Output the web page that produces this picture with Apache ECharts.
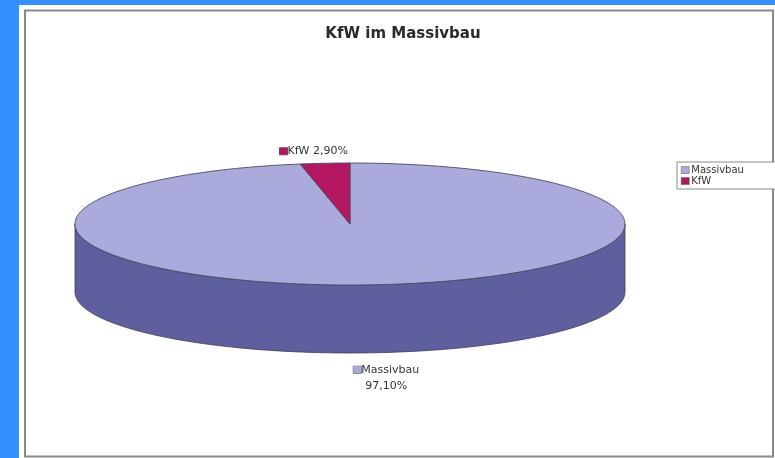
<!DOCTYPE html>
<html>
<head>
<meta charset="utf-8">
<script src="https://cdn.jsdelivr.net/npm/echarts@6/dist/echarts.min.js"></script>
<style>
  html, body { margin: 0; padding: 0; }
  #chart { width: 775px; height: 458px; }
</style>
</head>
<body>
<div id="chart"></div>
<script>
// Anteile (%), Excel-Reihenfolge: Start bei 12 Uhr, im Uhrzeigersinn
const categories = ["Massivbau", "KfW"];
const shares = [97.1, 2.9];
const topColors = ["#aaaadc", "#b3175f"];
const sideColors = ["#5f5f9f", "#7a1040"];

// Geometrie der 3D-Torte
const CX = 350, CY = 224, RX = 275, RY = 61, DEPTH = 68;

const total = shares.reduce((a, b) => a + b, 0);

function fmtPct(v) {
  return v.toFixed(2).replace(".", ",") + "%";
}

function pt(theta, dy) {
  // theta: Winkel im Uhrzeigersinn ab 12 Uhr
  return [CX + RX * Math.sin(theta), CY - RY * Math.cos(theta) + (dy || 0)];
}

function arcPoints(a0, a1, dy) {
  const pts = [];
  const n = Math.max(2, Math.ceil(Math.abs(a1 - a0) / (Math.PI / 180)));
  for (let i = 0; i <= n; i++) {
    pts.push(pt(a0 + (a1 - a0) * i / n, dy));
  }
  return pts;
}

function makeRender(idx) {
  return function(params, api) {
    let before = 0;
    for (let i = 0; i < idx; i++) before += shares[i];
    const value = api.value(0);
    const a0 = before / total * Math.PI * 2;
    const a1 = (before + value) / total * Math.PI * 2;
    const children = [];

    // sichtbare Seitenwand (vordere Hälfte: 90°..270°)
    const s0 = Math.max(a0, Math.PI / 2);
    const s1 = Math.min(a1, Math.PI * 1.5);
    if (s1 > s0) {
      const upper = arcPoints(s0, s1, 0);
      const lower = arcPoints(s1, s0, DEPTH);
      children.push({
        type: "polygon",
        shape: { points: upper.concat(lower) },
        style: { fill: sideColors[idx], stroke: "#3c3c5a", lineWidth: 0.8 }
      });
    }

    // Deckfläche
    children.push({
      type: "polygon",
      shape: { points: [[CX, CY]].concat(arcPoints(a0, a1, 0)) },
      style: { fill: topColors[idx], stroke: "#4a4a60", lineWidth: 0.9 }
    });

    // Beschriftung
    const mid = (a0 + a1) / 2;
    const front = Math.cos(mid) < 0;
    const lx = CX + RX * 1.45 * Math.sin(mid);
    const ly = front
      ? CY + (RY + 9) * Math.abs(Math.cos(mid)) + DEPTH
      : CY - (RY + 4) * Math.abs(Math.cos(mid));
    const sep = idx === 0 ? "\n" : " ";
    children.push({
      type: "text",
      style: {
        text: "{sq|}" + categories[idx] + sep + fmtPct(value),
        x: lx,
        y: ly,
        align: "center",
        verticalAlign: front ? "top" : "bottom",
        fontFamily: "DejaVu Sans",
        fontSize: 11,
        lineHeight: 16,
        fill: "#333",
        rich: {
          sq: {
            width: 8,
            height: 7,
            backgroundColor: topColors[idx],
            borderColor: "#555",
            borderWidth: 0.5
          }
        }
      }
    });

    return { type: "group", children: children };
  };
}

const chart = echarts.init(document.getElementById("chart"));

const option = {
  backgroundColor: "#3490ff",
  animation: false,
  title: {
    text: "KfW im Massivbau",
    left: 403,
    top: 27,
    padding: 0,
    textAlign: "center",
    textStyle: {
      fontFamily: "DejaVu Sans",
      fontWeight: "bold",
      fontSize: 15,
      color: "#2a2a2a"
    }
  },
  legend: {
    orient: "vertical",
    left: 677,
    top: 162,
    data: categories,
    icon: "rect",
    itemWidth: 8,
    itemHeight: 7,
    itemGap: 1,
    padding: [3, 45, 3, 4],
    borderColor: "#888",
    borderWidth: 1,
    borderRadius: 0,
    backgroundColor: "#fff",
    textStyle: { fontFamily: "DejaVu Sans", fontSize: 10, color: "#333", padding: [0, 0, 0, -3] },
    itemStyle: { borderColor: "#555", borderWidth: 0.5 }
  },
  graphic: [
    {
      type: "rect",
      z: -10,
      shape: { x: 19, y: 5, width: 770, height: 460 },
      style: { fill: "#ffffff" }
    },
    {
      type: "rect",
      z: -9,
      shape: { x: 25, y: 10.5, width: 748, height: 446 },
      style: { fill: "none", stroke: "#8a8a8a", lineWidth: 2 }
    }
  ],
  series: categories.map(function(name, idx) {
    return {
      name: name,
      type: "custom",
      coordinateSystem: "none",
      itemStyle: { color: topColors[idx] },
      renderItem: makeRender(idx),
      data: [[shares[idx]]]
    };
  })
};

chart.setOption(option);
</script>
</body>
</html>
